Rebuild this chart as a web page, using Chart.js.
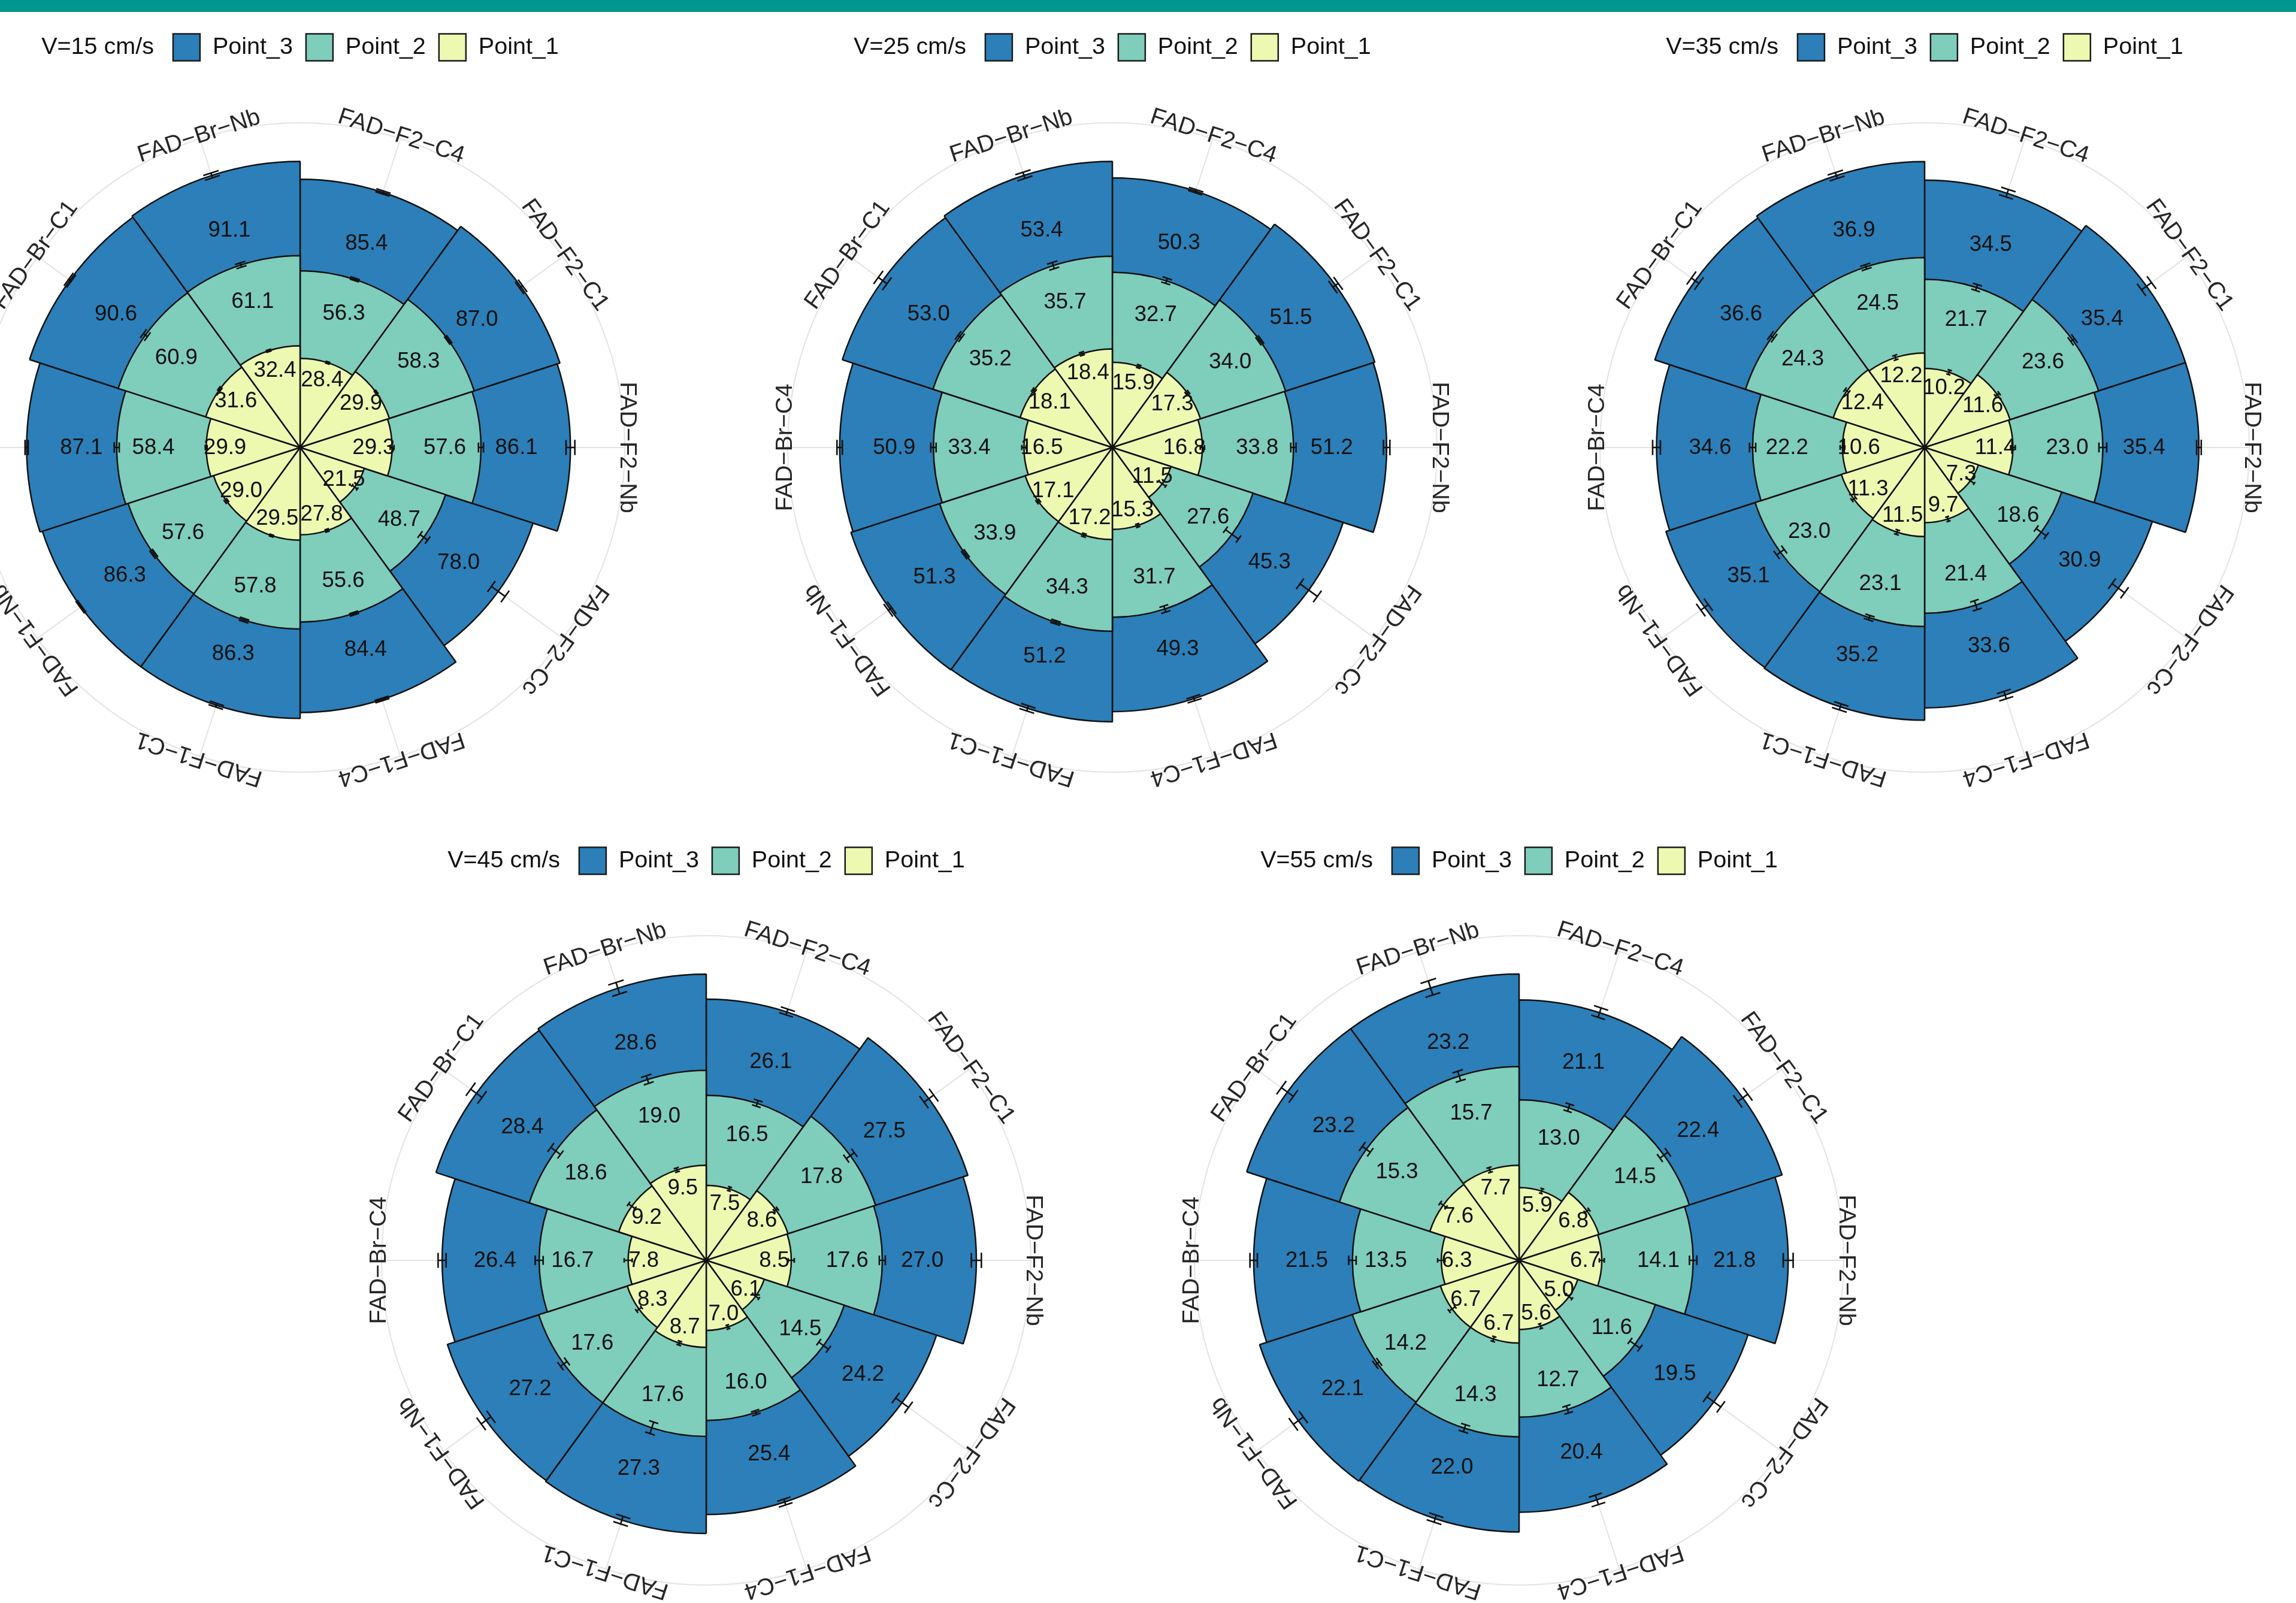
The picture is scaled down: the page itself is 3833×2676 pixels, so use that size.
<!DOCTYPE html>
<html>
<head>
<meta charset="utf-8">
<script src="https://cdn.jsdelivr.net/npm/chart.js@4.4.1/dist/chart.umd.min.js"></script>
<style>
  html, body { margin: 0; padding: 0; background: #ffffff; }
  body { width: 3833px; height: 2676px; position: relative; overflow: hidden; }
  #band { position: absolute; left: 0; top: 0; width: 3833px; height: 20px; background: #00978f; }
  canvas { position: absolute; }
</style>
</head>
<body>
<div id="band"></div>
<canvas id="v15" width="1356" height="1296" style="left:-177px; top:20px;"></canvas>
<canvas id="v25" width="1356" height="1296" style="left:1179px; top:20px;"></canvas>
<canvas id="v35" width="1356" height="1296" style="left:2535px; top:20px;"></canvas>
<canvas id="v45" width="1356" height="1296" style="left:501px; top:1380px;"></canvas>
<canvas id="v55" width="1356" height="1296" style="left:1858px; top:1380px;"></canvas>
<script>
// Flume positions, clockwise from 12 o'clock
const categories = ['FAD-F2-C4', 'FAD-F2-C1', 'FAD-F2-Nb', 'FAD-F2-Cc', 'FAD-F1-C4',
                    'FAD-F1-C1', 'FAD-F1-Nb', 'FAD-Br-C4', 'FAD-Br-C1', 'FAD-Br-Nb'];
const seriesNames = ['Point_3', 'Point_2', 'Point_1'];
const speedTitles = ['V=15 cm/s', 'V=25 cm/s', 'V=35 cm/s', 'V=45 cm/s', 'V=55 cm/s'];
// outer limit of each radial axis
const radialMax = [103.4, 60.6, 41.9, 32.45, 26.3];

// V = 15 cm/s
const v15Point3 = [85.4, 87.0, 86.1, 78.0, 84.4, 86.3, 86.3, 87.1, 90.6, 91.1];
const v15Point2 = [56.3, 58.3, 57.6, 48.7, 55.6, 57.8, 57.6, 58.4, 60.9, 61.1];
const v15Point1 = [28.4, 29.9, 29.3, 21.5, 27.8, 29.5, 29.0, 29.9, 31.6, 32.4];
const v15Err3 = [0.5, 0.6, 1.4, 2.7, 0.4, 0.6, 0.3, 0.5, 0.5, 0.8];
const v15Err2 = [0.4, 0.4, 0.8, 1.5, 0.4, 0.5, 0.5, 0.8, 0.8, 0.7];
const v15Err1 = [0.3, 0.3, 0.6, 1.0, 0.4, 0.3, 0.5, 0.3, 0.4, 0.3];

// V = 25 cm/s
const v25Point3 = [50.3, 51.5, 51.2, 45.3, 49.3, 51.2, 51.3, 50.9, 53.0, 53.4];
const v25Point2 = [32.7, 34.0, 33.8, 27.6, 31.7, 34.3, 33.9, 33.4, 35.2, 35.7];
const v25Point1 = [15.9, 17.3, 16.8, 11.5, 15.3, 17.2, 17.1, 16.5, 18.1, 18.4];
const v25Err3 = [0.3, 0.6, 0.6, 2.0, 0.4, 0.5, 0.4, 0.5, 1.0, 0.6];
const v25Err2 = [0.5, 0.3, 0.5, 1.5, 0.6, 0.3, 0.3, 0.5, 0.4, 0.6];
const v25Err1 = [0.3, 0.3, 0.4, 0.8, 0.3, 0.3, 0.3, 0.4, 0.3, 0.3];

// V = 35 cm/s
const v35Point3 = [34.5, 35.4, 35.4, 30.9, 33.6, 35.2, 35.1, 34.6, 36.6, 36.9];
const v35Point2 = [21.7, 23.6, 23.0, 18.6, 21.4, 23.1, 23.0, 22.2, 24.3, 24.5];
const v35Point1 = [10.2, 11.6, 11.4, 7.3, 9.7, 11.5, 11.3, 10.6, 12.4, 12.2];
const v35Err3 = [0.5, 0.8, 0.3, 1.0, 0.5, 0.4, 0.6, 0.5, 0.6, 0.4];
const v35Err2 = [0.4, 0.3, 0.5, 0.8, 0.6, 0.3, 0.6, 0.4, 0.3, 0.3];
const v35Err1 = [0.3, 0.3, 0.3, 0.6, 0.3, 0.3, 0.3, 0.3, 0.3, 0.3];

// V = 45 cm/s
const v45Point3 = [26.1, 27.5, 27.0, 24.2, 25.4, 27.3, 27.2, 26.4, 28.4, 28.6];
const v45Point2 = [16.5, 17.8, 17.6, 14.5, 16.0, 17.6, 17.6, 16.7, 18.6, 19.0];
const v45Point1 = [7.5, 8.6, 8.5, 6.1, 7.0, 8.7, 8.3, 7.8, 9.2, 9.5];
const v45Err3 = [0.3, 0.6, 0.5, 0.8, 0.3, 0.4, 0.6, 0.4, 0.7, 0.6];
const v45Err2 = [0.3, 0.5, 0.3, 0.6, 0.2, 0.6, 0.4, 0.4, 0.6, 0.4];
const v45Err1 = [0.2, 0.2, 0.3, 0.4, 0.2, 0.2, 0.3, 0.4, 0.4, 0.2];

// V = 55 cm/s
const v55Point3 = [21.1, 22.4, 21.8, 19.5, 20.4, 22.0, 22.1, 21.5, 23.2, 23.2];
const v55Point2 = [13.0, 14.5, 14.1, 11.6, 12.7, 14.3, 14.2, 13.5, 15.3, 15.7];
const v55Point1 = [5.9, 6.8, 6.7, 5.0, 5.6, 6.7, 6.7, 6.3, 7.6, 7.7];
const v55Err3 = [0.4, 0.5, 0.4, 0.7, 0.4, 0.3, 0.5, 0.3, 0.6, 0.6];
const v55Err2 = [0.3, 0.4, 0.3, 0.5, 0.3, 0.3, 0.2, 0.3, 0.4, 0.4];
const v55Err1 = [0.2, 0.2, 0.2, 0.3, 0.2, 0.2, 0.3, 0.3, 0.3, 0.2];

const FILLS = ['#2c7fb8', '#7fcdbb', '#edf8b1'];
const FONT_FAMILY = "'Liberation Sans', Arial, Helvetica, sans-serif";
const GRID_COLOR = '#e4e4e4';
const INK = '#111111';

// one entry per panel: canvas id, title, series, error half-widths
const panels = [
  { id: 'v15', title: speedTitles[0], max: radialMax[0], series: [v15Point3, v15Point2, v15Point1], errors: [v15Err3, v15Err2, v15Err1], legendY: 59, pad: { top: 185, bottom: 27 } },
  { id: 'v25', title: speedTitles[1], max: radialMax[1], series: [v25Point3, v25Point2, v25Point1], errors: [v25Err3, v25Err2, v25Err1], legendY: 59, pad: { top: 185, bottom: 27 } },
  { id: 'v35', title: speedTitles[2], max: radialMax[2], series: [v35Point3, v35Point2, v35Point1], errors: [v35Err3, v35Err2, v35Err1], legendY: 59, pad: { top: 185, bottom: 27 } },
  { id: 'v45', title: speedTitles[3], max: radialMax[3], series: [v45Point3, v45Point2, v45Point1], errors: [v45Err3, v45Err2, v45Err1], legendY: 57, pad: { top: 182, bottom: 30 } },
  { id: 'v55', title: speedTitles[4], max: radialMax[4], series: [v55Point3, v55Point2, v55Point1], errors: [v55Err3, v55Err2, v55Err1], legendY: 57, pad: { top: 182, bottom: 30 } }
];

const TAU = Math.PI * 2;
// canvas angle of the middle of sector i
function midAngle(i, n) { return -Math.PI / 2 + (i + 0.5) * TAU / n; }

// grid spokes, error bars, value labels, tangential axis labels and the legend row
const polarDecor = {
  id: 'polarDecor',
  beforeDatasetsDraw(chart) {
    const s = chart.scales.r, ctx = chart.ctx, n = chart.data.labels.length;
    const R = s.getDistanceFromCenterForValue(s.max);
    ctx.save();
    ctx.strokeStyle = GRID_COLOR;
    ctx.lineWidth = 2;
    for (let i = 0; i < n; i++) {
      const a = midAngle(i, n);
      ctx.beginPath();
      ctx.moveTo(s.xCenter, s.yCenter);
      ctx.lineTo(s.xCenter + R * Math.cos(a), s.yCenter + R * Math.sin(a));
      ctx.stroke();
    }
    ctx.restore();
  },
  afterDatasetsDraw(chart) {
    const s = chart.scales.r, ctx = chart.ctx, n = chart.data.labels.length;
    const capHalf = 1.6 * Math.PI / 180;
    ctx.save();
    // error bars
    ctx.strokeStyle = INK;
    ctx.lineWidth = 2.6;
    chart.data.datasets.forEach(ds => {
      ds.data.forEach((v, i) => {
        const e = ds.errors[i];
        const a = midAngle(i, n);
        const ca = Math.cos(a), sa = Math.sin(a);
        const r1 = s.getDistanceFromCenterForValue(v - e);
        const r2 = s.getDistanceFromCenterForValue(v + e);
        ctx.beginPath();
        ctx.moveTo(s.xCenter + r1 * ca, s.yCenter + r1 * sa);
        ctx.lineTo(s.xCenter + r2 * ca, s.yCenter + r2 * sa);
        [r1, r2].forEach(r => {
          const h = r * Math.tan(capHalf);
          const px = s.xCenter + r * ca, py = s.yCenter + r * sa;
          ctx.moveTo(px - h * sa, py + h * ca);
          ctx.lineTo(px + h * sa, py - h * ca);
        });
        ctx.stroke();
      });
    });
    // value labels inside each ring
    ctx.fillStyle = INK;
    ctx.font = '36.5px ' + FONT_FAMILY;
    ctx.textAlign = 'center';
    ctx.textBaseline = 'middle';
    chart.data.datasets.forEach(ds => {
      ds.data.forEach((v, i) => {
        const a = midAngle(i, n);
        const r = s.getDistanceFromCenterForValue(v * 0.8);
        ctx.fillText(v.toFixed(1), s.xCenter + r * Math.cos(a), s.yCenter + r * Math.sin(a) + 1);
      });
    });
    ctx.restore();
  },
  afterDraw(chart, args, opts) {
    const s = chart.scales.r, ctx = chart.ctx, n = chart.data.labels.length;
    const R = s.getDistanceFromCenterForValue(s.max) + 4;
    ctx.save();
    // category labels, tangential
    ctx.fillStyle = '#262626';
    ctx.font = '39.5px ' + FONT_FAMILY;
    ctx.textAlign = 'center';
    ctx.textBaseline = 'middle';
    chart.data.labels.forEach((lab, i) => {
      const a = midAngle(i, n);
      ctx.save();
      ctx.translate(s.xCenter + R * Math.cos(a), s.yCenter + R * Math.sin(a));
      ctx.rotate(a + Math.PI / 2);
      ctx.fillText(lab.replace(/-/g, '\u2212'), 0, 0);
      ctx.restore();
    });
    // legend row: title followed by the three keys
    ctx.font = '39.5px ' + FONT_FAMILY;
    ctx.textAlign = 'left';
    const box = 45, titleGap = 32, boxGap = 21, itemGap = 22;
    const y = opts.legendY;
    const tw = ctx.measureText(opts.title).width;
    const items = chart.data.datasets.map(d => ({ text: d.label, fill: d.backgroundColor, w: ctx.measureText(d.label).width }));
    let total = tw + titleGap;
    items.forEach((it, k) => { total += box + boxGap + it.w + (k < items.length - 1 ? itemGap : 0); });
    let x = s.xCenter - total / 2;
    ctx.fillStyle = INK;
    ctx.fillText(opts.title, x, y);
    x += tw + titleGap;
    items.forEach(it => {
      ctx.fillStyle = it.fill;
      ctx.fillRect(x, y - box / 2, box, box);
      ctx.lineWidth = 2.5;
      ctx.strokeStyle = '#1a1a1a';
      ctx.strokeRect(x, y - box / 2, box, box);
      x += box + boxGap;
      ctx.fillStyle = INK;
      ctx.fillText(it.text, x, y);
      x += it.w + itemGap;
    });
    ctx.restore();
  }
};

Chart.defaults.font.family = FONT_FAMILY;

panels.forEach(p => {
  new Chart(document.getElementById(p.id), {
    type: 'polarArea',
    data: {
      labels: categories,
      datasets: seriesNames.map((name, k) => ({
        label: name,
        data: p.series[k],
        errors: p.errors[k],
        backgroundColor: FILLS[k],
        borderColor: INK,
        borderWidth: 2.5,
        order: 3 - k
      }))
    },
    options: {
      responsive: false,
      animation: false,
      devicePixelRatio: 1,
      events: [],
      layout: { padding: { left: 136, right: 136, top: p.pad.top, bottom: p.pad.bottom } },
      plugins: {
        legend: { display: false },
        tooltip: { enabled: false },
        polarDecor: { title: p.title, legendY: p.legendY }
      },
      scales: {
        r: {
          min: 0,
          max: p.max,
          startAngle: 0,
          ticks: { display: false },
          pointLabels: { display: false },
          angleLines: { display: false },
          grid: { circular: true, color: GRID_COLOR, lineWidth: 2 },
          afterBuildTicks: scale => { scale.ticks = [{ value: 0 }, { value: p.max }]; }
        }
      }
    },
    plugins: [polarDecor]
  });
});
</script>
</body>
</html>
